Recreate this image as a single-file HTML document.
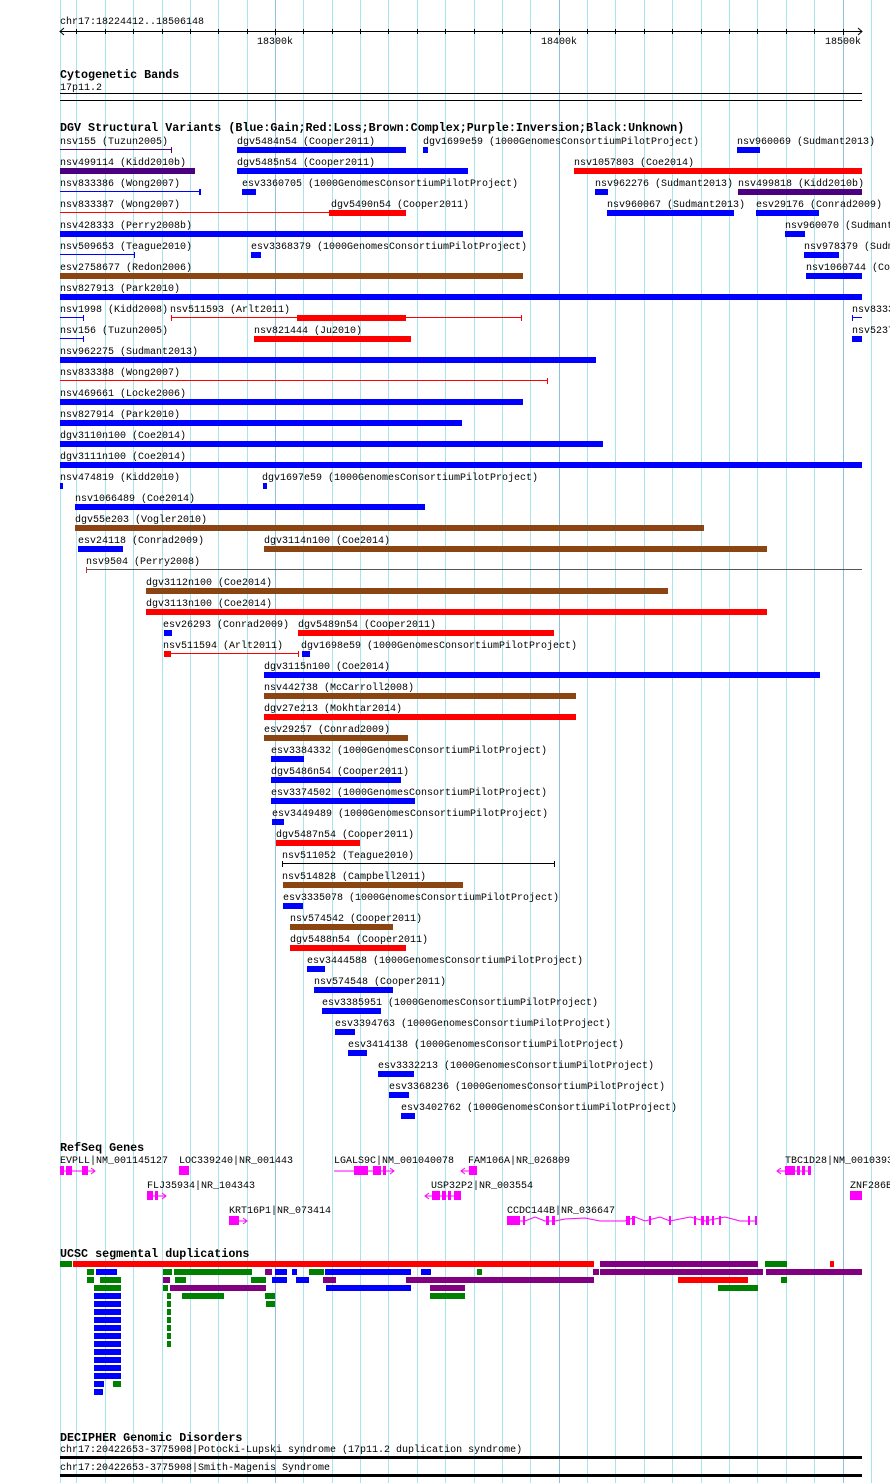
<!DOCTYPE html>
<html><head><meta charset="utf-8"><style>
html,body{margin:0;padding:0;background:#fff}
svg{display:block}
text{font-family:"Liberation Mono",monospace;font-size:10px;fill:#000}
.b{font-weight:bold;font-size:11.7px}
.g{stroke:#a8e4ec;stroke-width:1}
.m{stroke:#8cc0dc;stroke-width:1}
</style></head><body>
<svg width="890" height="1483" viewBox="0 0 890 1483" xmlns="http://www.w3.org/2000/svg">
<g>
<line class="g" x1="60.5" y1="0" x2="60.5" y2="1483"/>
<line class="g" x1="76.5" y1="0" x2="76.5" y2="1483"/><line class="g" x1="105.5" y1="0" x2="105.5" y2="1483"/><line class="g" x1="133.5" y1="0" x2="133.5" y2="1483"/><line class="g" x1="162.5" y1="0" x2="162.5" y2="1483"/><line class="g" x1="190.5" y1="0" x2="190.5" y2="1483"/><line class="g" x1="218.5" y1="0" x2="218.5" y2="1483"/><line class="g" x1="247.5" y1="0" x2="247.5" y2="1483"/><line class="m" x1="275.5" y1="0" x2="275.5" y2="1483"/><line class="g" x1="303.5" y1="0" x2="303.5" y2="1483"/><line class="g" x1="332.5" y1="0" x2="332.5" y2="1483"/><line class="g" x1="360.5" y1="0" x2="360.5" y2="1483"/><line class="g" x1="388.5" y1="0" x2="388.5" y2="1483"/><line class="g" x1="417.5" y1="0" x2="417.5" y2="1483"/><line class="g" x1="445.5" y1="0" x2="445.5" y2="1483"/><line class="g" x1="474.5" y1="0" x2="474.5" y2="1483"/><line class="g" x1="502.5" y1="0" x2="502.5" y2="1483"/><line class="g" x1="530.5" y1="0" x2="530.5" y2="1483"/><line class="m" x1="559.5" y1="0" x2="559.5" y2="1483"/><line class="g" x1="587.5" y1="0" x2="587.5" y2="1483"/><line class="g" x1="615.5" y1="0" x2="615.5" y2="1483"/><line class="g" x1="644.5" y1="0" x2="644.5" y2="1483"/><line class="g" x1="672.5" y1="0" x2="672.5" y2="1483"/><line class="g" x1="701.5" y1="0" x2="701.5" y2="1483"/><line class="g" x1="729.5" y1="0" x2="729.5" y2="1483"/><line class="g" x1="757.5" y1="0" x2="757.5" y2="1483"/><line class="g" x1="786.5" y1="0" x2="786.5" y2="1483"/><line class="g" x1="814.5" y1="0" x2="814.5" y2="1483"/><line class="m" x1="843.5" y1="0" x2="843.5" y2="1483"/><line class="g" x1="871.5" y1="0" x2="871.5" y2="1483"/>
</g>
<!-- ruler -->
<text x="60" y="24">chr17:18224412..18506148</text>
<line x1="60" y1="31.5" x2="862" y2="31.5" stroke="#000"/>
<path d="M64 28 L60 31.5 L64 35 M858 28 L862 31.5 L858 35" fill="none" stroke="#000"/>
<g stroke="#000">
<line x1="76.5" y1="29" x2="76.5" y2="34"/><line x1="105.5" y1="29" x2="105.5" y2="34"/><line x1="133.5" y1="29" x2="133.5" y2="34"/><line x1="162.5" y1="29" x2="162.5" y2="34"/><line x1="190.5" y1="29" x2="190.5" y2="34"/><line x1="218.5" y1="29" x2="218.5" y2="34"/><line x1="247.5" y1="29" x2="247.5" y2="34"/><line x1="275.5" y1="29" x2="275.5" y2="35"/><line x1="303.5" y1="29" x2="303.5" y2="34"/><line x1="332.5" y1="29" x2="332.5" y2="34"/><line x1="360.5" y1="29" x2="360.5" y2="34"/><line x1="388.5" y1="29" x2="388.5" y2="34"/><line x1="417.5" y1="29" x2="417.5" y2="34"/><line x1="445.5" y1="29" x2="445.5" y2="34"/><line x1="474.5" y1="29" x2="474.5" y2="34"/><line x1="502.5" y1="29" x2="502.5" y2="34"/><line x1="530.5" y1="29" x2="530.5" y2="34"/><line x1="559.5" y1="29" x2="559.5" y2="35"/><line x1="587.5" y1="29" x2="587.5" y2="34"/><line x1="615.5" y1="29" x2="615.5" y2="34"/><line x1="644.5" y1="29" x2="644.5" y2="34"/><line x1="672.5" y1="29" x2="672.5" y2="34"/><line x1="701.5" y1="29" x2="701.5" y2="34"/><line x1="729.5" y1="29" x2="729.5" y2="34"/><line x1="757.5" y1="29" x2="757.5" y2="34"/><line x1="786.5" y1="29" x2="786.5" y2="34"/><line x1="814.5" y1="29" x2="814.5" y2="34"/><line x1="843.5" y1="29" x2="843.5" y2="35"/>
</g>
<text x="257" y="44">18300k</text><text x="541" y="44">18400k</text><text x="825" y="44">18500k</text>
<!-- cytogenetic -->
<text class="b" x="60" y="78">Cytogenetic Bands</text>
<text x="60" y="90">17p11.2</text>
<rect x="60" y="93" width="802" height="1" fill="#000"/>
<rect x="60" y="100" width="802" height="1" fill="#000"/>
<!-- DGV -->
<text class="b" x="60" y="131">DGV Structural Variants (Blue:Gain;Red:Loss;Brown:Complex;Purple:Inversion;Black:Unknown)</text>
<g>
<!-- row0 -->
<text x="60" y="144">nsv155 (Tuzun2005)</text><rect x="60" y="149" width="112" height="1" fill="#4b0082"/><rect x="171" y="147" width="1" height="6" fill="#4b0082"/>
<text x="237" y="144">dgv5484n54 (Cooper2011)</text><rect x="237" y="147" width="169" height="6" fill="#00f"/>
<text x="423" y="144">dgv1699e59 (1000GenomesConsortiumPilotProject)</text><rect x="423" y="147" width="5" height="6" fill="#00f"/>
<text x="737" y="144">nsv960069 (Sudmant2013)</text><rect x="737" y="147" width="23" height="6" fill="#00f"/>
<!-- row1 -->
<text x="60" y="165">nsv499114 (Kidd2010b)</text><rect x="60" y="168" width="135" height="6" fill="#4b0082"/>
<text x="237" y="165">dgv5485n54 (Cooper2011)</text><rect x="237" y="168" width="231" height="6" fill="#00f"/>
<text x="574" y="165">nsv1057803 (Coe2014)</text><rect x="574" y="168" width="288" height="6" fill="#f00"/>
<!-- row2 -->
<text x="60" y="186">nsv833386 (Wong2007)</text><rect x="60" y="191" width="140" height="1" fill="#00f"/><rect x="199" y="189" width="2" height="6" fill="#00f"/>
<text x="242" y="186">esv3360705 (1000GenomesConsortiumPilotProject)</text><rect x="242" y="189" width="14" height="6" fill="#00f"/>
<text x="595" y="186">nsv962276 (Sudmant2013)</text><rect x="595" y="189" width="13" height="6" fill="#00f"/>
<text x="738" y="186">nsv499818 (Kidd2010b)</text><rect x="738" y="189" width="124" height="6" fill="#4b0082"/>
<!-- row3 -->
<text x="60" y="207">nsv833387 (Wong2007)</text><rect x="60" y="212" width="271" height="1" fill="#f00"/><rect x="329" y="210" width="2" height="6" fill="#f00"/>
<text x="331" y="207">dgv5490n54 (Cooper2011)</text><rect x="331" y="210" width="75" height="6" fill="#f00"/>
<text x="607" y="207">nsv960067 (Sudmant2013)</text><rect x="607" y="210" width="127" height="6" fill="#00f"/>
<text x="756" y="207">esv29176 (Conrad2009)</text><rect x="756" y="210" width="63" height="6" fill="#00f"/>
<!-- row4 -->
<text x="60" y="228">nsv428333 (Perry2008b)</text><rect x="60" y="231" width="463" height="6" fill="#00f"/>
<text x="785" y="228">nsv960070 (Sudmant2013)</text><rect x="785" y="231" width="20" height="6" fill="#00f"/>
<!-- row5 -->
<text x="60" y="249">nsv509653 (Teague2010)</text><rect x="60" y="254" width="75" height="1" fill="#00f"/><rect x="134" y="252" width="1" height="6" fill="#00f"/>
<text x="251" y="249">esv3368379 (1000GenomesConsortiumPilotProject)</text><rect x="251" y="252" width="10" height="6" fill="#00f"/>
<text x="804" y="249">nsv978379 (Sudmant2013)</text><rect x="804" y="252" width="35" height="6" fill="#00f"/>
<!-- row6 -->
<text x="60" y="270">esv2758677 (Redon2006)</text><rect x="60" y="273" width="463" height="6" fill="#8b4513"/>
<text x="806" y="270">nsv1060744 (Coe2014)</text><rect x="806" y="273" width="56" height="6" fill="#00f"/>
<!-- row7 -->
<text x="60" y="291">nsv827913 (Park2010)</text><rect x="60" y="294" width="802" height="6" fill="#00f"/>
<!-- row8 -->
<text x="60" y="312">nsv1998 (Kidd2008)</text><rect x="60" y="317" width="24" height="1" fill="#00f"/><rect x="83" y="315" width="1" height="6" fill="#00f"/>
<text x="170" y="312">nsv511593 (Arlt2011)</text><rect x="171" y="317" width="351" height="1" fill="#f00"/><rect x="171" y="315" width="1" height="6" fill="#f00"/><rect x="521" y="315" width="1" height="6" fill="#f00"/><rect x="297" y="315" width="109" height="6" fill="#f00"/>
<text x="852" y="312">nsv833389</text><rect x="852" y="317" width="10" height="1" fill="#00f"/><rect x="852" y="315" width="1" height="6" fill="#00f"/>
<!-- row9 -->
<text x="60" y="333">nsv156 (Tuzun2005)</text><rect x="60" y="338" width="24" height="1" fill="#00f"/><rect x="83" y="336" width="1" height="6" fill="#00f"/>
<text x="254" y="333">nsv821444 (Ju2010)</text><rect x="254" y="336" width="157" height="6" fill="#f00"/>
<text x="852" y="333">nsv523735</text><rect x="852" y="336" width="10" height="6" fill="#00f"/>
<!-- rows 10-15 -->
<text x="60" y="354">nsv962275 (Sudmant2013)</text><rect x="60" y="357" width="536" height="6" fill="#00f"/>
<text x="60" y="375">nsv833388 (Wong2007)</text><rect x="60" y="380" width="488" height="1" fill="#f00"/><rect x="547" y="378" width="1" height="6" fill="#f00"/>
<text x="60" y="396">nsv469661 (Locke2006)</text><rect x="60" y="399" width="463" height="6" fill="#00f"/>
<text x="60" y="417">nsv827914 (Park2010)</text><rect x="60" y="420" width="402" height="6" fill="#00f"/>
<text x="60" y="438">dgv3110n100 (Coe2014)</text><rect x="60" y="441" width="543" height="6" fill="#00f"/>
<text x="60" y="459">dgv3111n100 (Coe2014)</text><rect x="60" y="462" width="802" height="6" fill="#00f"/>
<!-- row16 -->
<text x="60" y="480">nsv474819 (Kidd2010)</text><rect x="60" y="483" width="3" height="6" fill="#00f"/>
<text x="262" y="480">dgv1697e59 (1000GenomesConsortiumPilotProject)</text><rect x="263" y="483" width="4" height="6" fill="#00f"/>
<text x="75" y="501">nsv1066489 (Coe2014)</text><rect x="75" y="504" width="350" height="6" fill="#00f"/>
<text x="75" y="522">dgv55e203 (Vogler2010)</text><rect x="75" y="525" width="629" height="6" fill="#8b4513"/>
<text x="78" y="543">esv24118 (Conrad2009)</text><rect x="78" y="546" width="45" height="6" fill="#00f"/>
<text x="264" y="543">dgv3114n100 (Coe2014)</text><rect x="264" y="546" width="503" height="6" fill="#8b4513"/>
<text x="86" y="564">nsv9504 (Perry2008)</text><rect x="86" y="569" width="776" height="1" fill="#555"/><rect x="86" y="567" width="1" height="6" fill="#c33"/>
<text x="146" y="585">dgv3112n100 (Coe2014)</text><rect x="146" y="588" width="522" height="6" fill="#8b4513"/>
<text x="146" y="606">dgv3113n100 (Coe2014)</text><rect x="146" y="609" width="621" height="6" fill="#f00"/>
<text x="163" y="627">esv26293 (Conrad2009)</text><rect x="164" y="630" width="8" height="6" fill="#00f"/>
<text x="298" y="627">dgv5489n54 (Cooper2011)</text><rect x="298" y="630" width="256" height="6" fill="#f00"/>
<text x="163" y="648">nsv511594 (Arlt2011)</text><rect x="164" y="653" width="135" height="1" fill="#f00"/><rect x="164" y="651" width="7" height="6" fill="#f00"/><rect x="298" y="651" width="1" height="6" fill="#f00"/>
<text x="301" y="648">dgv1698e59 (1000GenomesConsortiumPilotProject)</text><rect x="302" y="651" width="8" height="6" fill="#00f"/>
<text x="264" y="669">dgv3115n100 (Coe2014)</text><rect x="264" y="672" width="556" height="6" fill="#00f"/>
<text x="264" y="690">nsv442738 (McCarroll2008)</text><rect x="264" y="693" width="312" height="6" fill="#8b4513"/>
<text x="264" y="711">dgv27e213 (Mokhtar2014)</text><rect x="264" y="714" width="312" height="6" fill="#f00"/>
<text x="264" y="732">esv29257 (Conrad2009)</text><rect x="264" y="735" width="144" height="6" fill="#8b4513"/>
<text x="271" y="753">esv3384332 (1000GenomesConsortiumPilotProject)</text><rect x="271" y="756" width="33" height="6" fill="#00f"/>
<text x="271" y="774">dgv5486n54 (Cooper2011)</text><rect x="271" y="777" width="130" height="6" fill="#00f"/>
<text x="271" y="795">esv3374502 (1000GenomesConsortiumPilotProject)</text><rect x="271" y="798" width="144" height="6" fill="#00f"/>
<text x="272" y="816">esv3449489 (1000GenomesConsortiumPilotProject)</text><rect x="272" y="819" width="12" height="6" fill="#00f"/>
<text x="276" y="837">dgv5487n54 (Cooper2011)</text><rect x="276" y="840" width="84" height="6" fill="#f00"/>
<text x="282" y="858">nsv511052 (Teague2010)</text><rect x="282" y="863" width="273" height="1" fill="#000"/><rect x="282" y="861" width="1" height="6" fill="#000"/><rect x="554" y="861" width="1" height="6" fill="#000"/>
<text x="282" y="879">nsv514828 (Campbell2011)</text><rect x="283" y="882" width="180" height="6" fill="#8b4513"/>
<text x="283" y="900">esv3335078 (1000GenomesConsortiumPilotProject)</text><rect x="283" y="903" width="20" height="6" fill="#00f"/>
<text x="290" y="921">nsv574542 (Cooper2011)</text><rect x="290" y="924" width="103" height="6" fill="#8b4513"/>
<text x="290" y="942">dgv5488n54 (Cooper2011)</text><rect x="290" y="945" width="116" height="6" fill="#f00"/>
<text x="307" y="963">esv3444588 (1000GenomesConsortiumPilotProject)</text><rect x="307" y="966" width="18" height="6" fill="#00f"/>
<text x="314" y="984">nsv574548 (Cooper2011)</text><rect x="314" y="987" width="79" height="6" fill="#00f"/>
<text x="322" y="1005">esv3385951 (1000GenomesConsortiumPilotProject)</text><rect x="322" y="1008" width="59" height="6" fill="#00f"/>
<text x="335" y="1026">esv3394763 (1000GenomesConsortiumPilotProject)</text><rect x="335" y="1029" width="20" height="6" fill="#00f"/>
<text x="348" y="1047">esv3414138 (1000GenomesConsortiumPilotProject)</text><rect x="348" y="1050" width="19" height="6" fill="#00f"/>
<text x="378" y="1068">esv3332213 (1000GenomesConsortiumPilotProject)</text><rect x="378" y="1071" width="36" height="6" fill="#00f"/>
<text x="389" y="1089">esv3368236 (1000GenomesConsortiumPilotProject)</text><rect x="389" y="1092" width="20" height="6" fill="#00f"/>
<text x="401" y="1110">esv3402762 (1000GenomesConsortiumPilotProject)</text><rect x="401" y="1113" width="14" height="6" fill="#00f"/>
</g>
<!-- RefSeq -->
<text class="b" x="60" y="1151">RefSeq Genes</text>
<g fill="#f0f" stroke="#f0f">
<text x="60" y="1163" style="fill:#000;stroke:none">EVPLL|NM_001145127</text>
<line x1="60" y1="1171" x2="95" y2="1171"/><rect x="60" y="1166" width="4" height="9" stroke="none"/><rect x="66" y="1166" width="6" height="9" stroke="none"/><rect x="82" y="1166" width="6" height="9" stroke="none"/><path d="M91 1168 L95 1171 L91 1174" fill="none"/>
<text x="179" y="1163" style="fill:#000;stroke:none">LOC339240|NR_001443</text><rect x="179" y="1166" width="10" height="9" stroke="none"/>
<text x="334" y="1163" style="fill:#000;stroke:none">LGALS9C|NM_001040078</text>
<line x1="334" y1="1171" x2="394" y2="1171"/><rect x="354" y="1166" width="14" height="9" stroke="none"/><rect x="373" y="1166" width="8" height="9" stroke="none"/><rect x="383" y="1166" width="3" height="9" stroke="none"/><path d="M390 1168 L394 1171 L390 1174" fill="none"/>
<text x="468" y="1163" style="fill:#000;stroke:none">FAM106A|NR_026809</text>
<line x1="461" y1="1171" x2="470" y2="1171"/><path d="M465 1168 L461 1171 L465 1174" fill="none"/><rect x="469" y="1166" width="8" height="9" stroke="none"/>
<text x="785" y="1163" style="fill:#000;stroke:none">TBC1D28|NM_001039397</text>
<line x1="777" y1="1171" x2="811" y2="1171"/><path d="M781 1168 L777 1171 L781 1174" fill="none"/><rect x="785" y="1166" width="10" height="9" stroke="none"/><rect x="797" y="1166" width="3" height="9" stroke="none"/><rect x="802" y="1166" width="3" height="9" stroke="none"/><rect x="808" y="1166" width="3" height="9" stroke="none"/>
<text x="147" y="1188" style="fill:#000;stroke:none">FLJ35934|NR_104343</text>
<line x1="147" y1="1196" x2="166" y2="1196"/><rect x="147" y="1191" width="6" height="9" stroke="none"/><rect x="155" y="1191" width="3" height="9" stroke="none"/><path d="M162 1193 L166 1196 L162 1199" fill="none"/>
<text x="431" y="1188" style="fill:#000;stroke:none">USP32P2|NR_003554</text>
<line x1="425" y1="1196" x2="461" y2="1196"/><path d="M429 1193 L425 1196 L429 1199" fill="none"/><rect x="432" y="1191" width="8" height="9" stroke="none"/><rect x="442" y="1191" width="4" height="9" stroke="none"/><rect x="448" y="1191" width="3" height="9" stroke="none"/><rect x="454" y="1191" width="7" height="9" stroke="none"/>
<text x="850" y="1188" style="fill:#000;stroke:none">ZNF286B</text><rect x="850" y="1191" width="12" height="9" stroke="none"/>
<text x="229" y="1213" style="fill:#000;stroke:none">KRT16P1|NR_073414</text>
<line x1="229" y1="1221" x2="247" y2="1221"/><rect x="229" y="1216" width="10" height="9" stroke="none"/><path d="M243 1218 L247 1221 L243 1224" fill="none"/>
<text x="507" y="1213" style="fill:#000;stroke:none">CCDC144B|NR_036647</text>
<polyline points="507,1221 525,1221 535,1217 545,1221 555,1221 565,1219 585,1218 600,1221 625,1221 635,1217 645,1221 660,1217 670,1221 690,1217 705,1221 725,1217 740,1221 757,1221" fill="none"/>
<rect x="507" y="1216" width="13" height="9" stroke="none"/><rect x="523" y="1216" width="2" height="9" stroke="none"/><rect x="546" y="1216" width="3" height="9" stroke="none"/><rect x="552" y="1216" width="3" height="9" stroke="none"/><rect x="626" y="1216" width="4" height="9" stroke="none"/><rect x="632" y="1216" width="3" height="9" stroke="none"/><rect x="649" y="1216" width="2" height="9" stroke="none"/><rect x="669" y="1216" width="2" height="9" stroke="none"/><rect x="694" y="1216" width="2" height="9" stroke="none"/><rect x="701" y="1216" width="3" height="9" stroke="none"/><rect x="706" y="1216" width="3" height="9" stroke="none"/><rect x="712" y="1216" width="2" height="9" stroke="none"/><rect x="719" y="1216" width="2" height="9" stroke="none"/><rect x="748" y="1216" width="2" height="9" stroke="none"/><rect x="755" y="1216" width="2" height="9" stroke="none"/>
</g>
<!-- segdups -->
<text class="b" x="60" y="1257">UCSC segmental duplications</text>
<g>
<rect x="60" y="1261" width="12" height="6" fill="#008000"/><rect x="73" y="1261" width="521" height="6" fill="#f00"/><rect x="600" y="1261" width="158" height="6" fill="#800080"/><rect x="765" y="1261" width="22" height="6" fill="#008000"/><rect x="830" y="1261" width="4" height="6" fill="#f00"/>
<rect x="87" y="1269" width="7" height="6" fill="#008000"/><rect x="96" y="1269" width="21" height="6" fill="#00f"/><rect x="163" y="1269" width="9" height="6" fill="#008000"/><rect x="174" y="1269" width="78" height="6" fill="#008000"/><rect x="265" y="1269" width="7" height="6" fill="#800080"/><rect x="275" y="1269" width="12" height="6" fill="#00f"/><rect x="292" y="1269" width="5" height="6" fill="#00f"/><rect x="309" y="1269" width="15" height="6" fill="#008000"/><rect x="325" y="1269" width="86" height="6" fill="#00f"/><rect x="421" y="1269" width="10" height="6" fill="#00f"/><rect x="477" y="1269" width="5" height="6" fill="#008000"/><rect x="593" y="1269" width="6" height="6" fill="#800080"/><rect x="600" y="1269" width="163" height="6" fill="#800080"/><rect x="766" y="1269" width="96" height="6" fill="#800080"/>
<rect x="87" y="1277" width="7" height="6" fill="#008000"/><rect x="100" y="1277" width="21" height="6" fill="#008000"/><rect x="163" y="1277" width="7" height="6" fill="#800080"/><rect x="175" y="1277" width="11" height="6" fill="#008000"/><rect x="251" y="1277" width="15" height="6" fill="#008000"/><rect x="272" y="1277" width="15" height="6" fill="#00f"/><rect x="296" y="1277" width="13" height="6" fill="#00f"/><rect x="323" y="1277" width="13" height="6" fill="#800080"/><rect x="406" y="1277" width="188" height="6" fill="#800080"/><rect x="678" y="1277" width="70" height="6" fill="#f00"/><rect x="781" y="1277" width="6" height="6" fill="#008000"/>
<rect x="94" y="1285" width="27" height="6" fill="#008000"/><rect x="163" y="1285" width="5" height="6" fill="#008000"/><rect x="170" y="1285" width="96" height="6" fill="#800080"/><rect x="326" y="1285" width="85" height="6" fill="#00f"/><rect x="430" y="1285" width="35" height="6" fill="#800080"/><rect x="718" y="1285" width="40" height="6" fill="#008000"/>
<rect x="182" y="1293" width="42" height="6" fill="#008000"/><rect x="265" y="1293" width="10" height="6" fill="#008000"/><rect x="430" y="1293" width="35" height="6" fill="#008000"/><rect x="266" y="1301" width="9" height="6" fill="#008000"/>
<g fill="#00f"><rect x="94" y="1293" width="27" height="6"/><rect x="94" y="1301" width="27" height="6"/><rect x="94" y="1309" width="27" height="6"/><rect x="94" y="1317" width="27" height="6"/><rect x="94" y="1325" width="27" height="6"/><rect x="94" y="1333" width="27" height="6"/><rect x="94" y="1341" width="27" height="6"/><rect x="94" y="1349" width="27" height="6"/><rect x="94" y="1357" width="27" height="6"/><rect x="94" y="1365" width="27" height="6"/><rect x="94" y="1373" width="27" height="6"/><rect x="94" y="1381" width="10" height="6"/><rect x="94" y="1389" width="9" height="6"/></g>
<rect x="113" y="1381" width="8" height="6" fill="#008000"/>
<g fill="#008000"><rect x="167" y="1293" width="4" height="6"/><rect x="167" y="1301" width="4" height="6"/><rect x="167" y="1309" width="4" height="6"/><rect x="167" y="1317" width="4" height="6"/><rect x="167" y="1325" width="4" height="6"/><rect x="167" y="1333" width="4" height="6"/><rect x="167" y="1341" width="4" height="6"/></g>
</g>
<!-- DECIPHER -->
<text class="b" x="60" y="1441">DECIPHER Genomic Disorders</text>
<text x="60" y="1452">chr17:20422653-3775908|Potocki-Lupski syndrome (17p11.2 duplication syndrome)</text>
<rect x="60" y="1456" width="802" height="3" fill="#000"/>
<text x="60" y="1470">chr17:20422653-3775908|Smith-Magenis Syndrome</text>
<rect x="60" y="1474" width="802" height="3" fill="#000"/>
</svg>
</body></html>
